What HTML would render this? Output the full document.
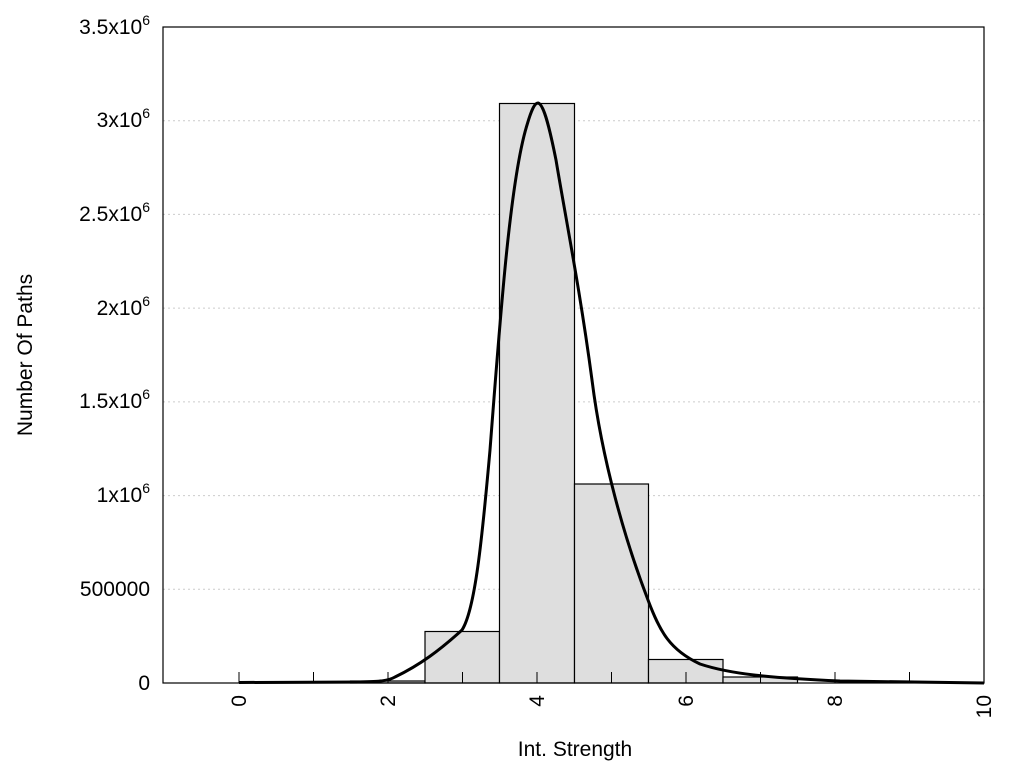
<!DOCTYPE html>
<html><head><style>body{margin:0;background:#fff}</style></head><body>
<svg width="1024" height="768" xmlns="http://www.w3.org/2000/svg" font-family="Liberation Sans, sans-serif" font-size="21">
<rect width="1024" height="768" fill="#fff"/>
<g stroke="#ccc" stroke-dasharray="2,3" stroke-width="1">
<line x1="163" x2="984" y1="589.3" y2="589.3"/><line x1="163" x2="984" y1="495.6" y2="495.6"/>
<line x1="163" x2="984" y1="401.9" y2="401.9"/><line x1="163" x2="984" y1="308.1" y2="308.1"/>
<line x1="163" x2="984" y1="214.4" y2="214.4"/><line x1="163" x2="984" y1="120.7" y2="120.7"/>
</g>
<g fill="#dedede" stroke="#000" stroke-width="1.2">
<rect x="350.5" y="681" width="74.5" height="2"/>
<rect x="425" y="631.5" width="74.5" height="51.5"/>
<rect x="499.5" y="103.5" width="75" height="579.5"/>
<rect x="574.5" y="484" width="74" height="199"/>
<rect x="648.5" y="659.5" width="74.5" height="23.5"/>
<rect x="723" y="677" width="74.5" height="6"/>
</g>
<g stroke="#000" stroke-width="1">
<line x1="239" x2="239" y1="683" y2="672"/><line x1="313.5" x2="313.5" y1="683" y2="672"/>
<line x1="388" x2="388" y1="683" y2="672"/><line x1="462.5" x2="462.5" y1="683" y2="672"/>
<line x1="537" x2="537" y1="683" y2="672"/><line x1="611.5" x2="611.5" y1="683" y2="672"/>
<line x1="686" x2="686" y1="683" y2="672"/><line x1="760.5" x2="760.5" y1="683" y2="672"/>
<line x1="835" x2="835" y1="683" y2="672"/><line x1="909.5" x2="909.5" y1="683" y2="672"/>
</g>
<rect x="163" y="27" width="821" height="656" fill="none" stroke="#000" stroke-width="1.2"/>
<path fill="none" stroke="#000" stroke-width="3" stroke-linejoin="round" d="M239,682.5 L360,682 C380,681.5 388,681 395,677 C420,665 440,650 462,630 C475,610 482,540 490,450 C500,320 510,180 527,125 C532,108 535,103 538,103 C543,104 548,120 556,160 C566,220 580,290 592,380 C602,460 625,540 648,600 C660,632 670,650 700,664 C730,674 770,678 840,681 L984,683"/>
<g text-anchor="end">
<text x="150" y="690">0</text>
<text x="150" y="596">500000</text>
<text x="150" y="502">1x10<tspan font-size="14" dy="-9">6</tspan></text>
<text x="150" y="408">1.5x10<tspan font-size="14" dy="-9">6</tspan></text>
<text x="150" y="315">2x10<tspan font-size="14" dy="-9">6</tspan></text>
<text x="150" y="221">2.5x10<tspan font-size="14" dy="-9">6</tspan></text>
<text x="150" y="127">3x10<tspan font-size="14" dy="-9">6</tspan></text>
<text x="150" y="34">3.5x10<tspan font-size="14" dy="-9">6</tspan></text>
</g>
<g text-anchor="end">
<text transform="translate(246,695) rotate(-90)">0</text>
<text transform="translate(395,695) rotate(-90)">2</text>
<text transform="translate(544,695) rotate(-90)">4</text>
<text transform="translate(693,695) rotate(-90)">6</text>
<text transform="translate(842,695) rotate(-90)">8</text>
<text transform="translate(991,695) rotate(-90)">10</text>
</g>
<text transform="translate(32,355) rotate(-90)" text-anchor="middle">Number Of Paths</text>
<text x="575" y="756" text-anchor="middle">Int. Strength</text>
</svg>
</body></html>
